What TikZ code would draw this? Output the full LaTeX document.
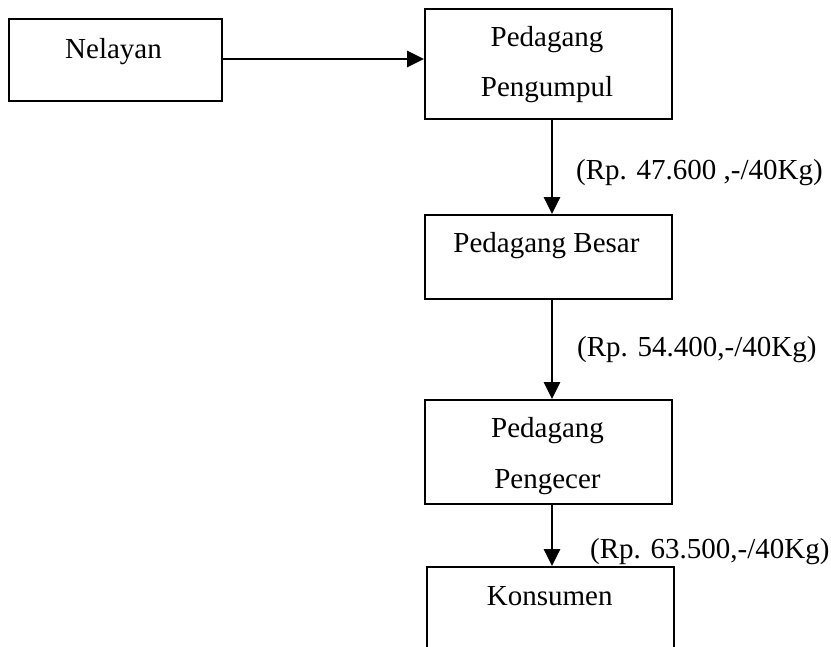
\documentclass[tikz,border=0pt]{standalone}
\usepackage{fontspec}
\setmainfont{Liberation Serif}
\usetikzlibrary{arrows.meta}
\begin{document}
\begin{tikzpicture}[x=1pt,y=-1pt,
  box/.style={draw, line width=1.8pt, rectangle, inner sep=0pt, minimum width=247pt},
  txt/.style={anchor=base, inner sep=0pt, font=\fontsize{29}{34}\selectfont},
  lbl/.style={anchor=base west, inner sep=0pt, font=\fontsize{29}{34}\selectfont},
  flow/.style={line width=2.6pt, -{Triangle[length=17pt,width=16pt]}}]
\clip (0,0) rectangle (831,647);
% boxes
\node[box, minimum width=213pt, minimum height=82pt] (nelayan) at (115.5,60) {};
\node[box, minimum height=110pt] (pengumpul) at (548.5,64) {};
\node[box, minimum height=84pt] (besar) at (548.5,257) {};
\node[box, minimum height=104pt] (pengecer) at (548.5,452) {};
\node[box, minimum height=122pt] (konsumen) at (550.5,628) {};
% texts
\node[txt] (t-nelayan) at (113.5,59) {Nelayan};
\node[txt] (t-pengumpul1) at (547,47) {Pedagang};
\node[txt] (t-pengumpul2) at (547,97) {Pengumpul};
\node[txt] (t-besar) at (546.5,253) {Pedagang Besar};
\node[txt] (t-pengecer1) at (547.5,438) {Pedagang};
\node[txt] (t-pengecer2) at (547.5,488) {Pengecer};
\node[txt] (t-konsumen) at (549.7,605) {Konsumen};
% labels
\node[lbl] (l1) at (576,180) {(Rp. 47.600 ,-/40Kg)};
\node[lbl] (l2) at (577,357) {(Rp. 54.400,-/40Kg)};
\node[lbl] (l3) at (590,558) {(Rp. 63.500,-/40Kg)};
% connectors
\draw[flow] ([yshift=1pt]nelayan.east) -- ([yshift=1pt]nelayan.east -| pengumpul.west);
\draw[flow] ([xshift=3.5pt]pengumpul.south) -- ([xshift=3.5pt]besar.north);
\draw[flow] ([xshift=3.5pt]besar.south) -- ([xshift=3.5pt]pengecer.north);
\draw[flow] ([xshift=3.5pt]pengecer.south) -- ([xshift=1.5pt]konsumen.north);
\end{tikzpicture}
\end{document}
